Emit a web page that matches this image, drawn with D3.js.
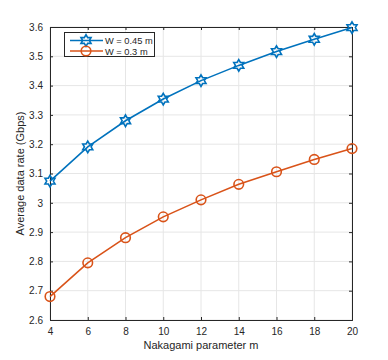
<!DOCTYPE html>
<html lang="en">
<head>
<meta charset="UTF-8" />
<script src="https://d3js.org/d3.v7.min.js"></script>
<style>
  body { margin: 0; background: #fff; }
  text { font-family: "Liberation Sans", Arial, sans-serif; fill: #262626; }
</style>
</head>
<body>
<div id="chart"></div>
<script>
// data
const mValues = [4, 6, 8, 10, 12, 14, 16, 18, 20];
const rateW045 = [3.074, 3.191, 3.280, 3.354, 3.417, 3.469, 3.516, 3.558, 3.598];
const rateW03 = [2.680, 2.795, 2.881, 2.952, 3.010, 3.063, 3.106, 3.148, 3.185];
const xTicks = [4, 6, 8, 10, 12, 14, 16, 18, 20];
const yTicks = [2.6, 2.7, 2.8, 2.9, 3.0, 3.1, 3.2, 3.3, 3.4, 3.5, 3.6];
const seriesNames = ["W = 0.45 m", "W = 0.3 m"];

const width = 388, height = 360;
const margin = { top: 27, right: 36, bottom: 40, left: 50 };
const axisColor = "#262626";

const svg = d3.select("#chart").append("svg")
  .attr("width", width).attr("height", height);

const x = d3.scaleLinear().domain([4, 20]).range([margin.left, width - margin.right]);
const y = d3.scaleLinear().domain([2.6, 3.6]).range([height - margin.bottom, margin.top]);

// grid
const grid = svg.append("g");
grid.selectAll("line.gx").data(xTicks).join("line")
  .attr("x1", d => x(d)).attr("x2", d => x(d))
  .attr("y1", y(2.6)).attr("y2", y(3.6))
  .attr("stroke", "#e6e6e6").attr("stroke-width", 1);
grid.selectAll("line.gy").data(yTicks).join("line")
  .attr("y1", d => y(d)).attr("y2", d => y(d))
  .attr("x1", x(4)).attr("x2", x(20))
  .attr("stroke", "#e6e6e6").attr("stroke-width", 1);

// axes (ticks pointing inwards, box on)
const fmtY = d => d3.format("")(+d.toFixed(1));
const xAxis = svg.append("g").attr("transform", `translate(0,${y(2.6)})`)
  .call(d3.axisBottom(x).tickValues(xTicks).tickSize(-3).tickPadding(8));
const yAxis = svg.append("g").attr("transform", `translate(${x(4)},0)`)
  .call(d3.axisLeft(y).tickValues(yTicks).tickFormat(fmtY).tickSize(-3).tickPadding(7));
const xTop = svg.append("g").attr("transform", `translate(0,${y(3.6)})`)
  .call(d3.axisTop(x).tickValues(xTicks).tickSize(-3).tickFormat(""));
const yRight = svg.append("g").attr("transform", `translate(${x(20)},0)`)
  .call(d3.axisRight(y).tickValues(yTicks).tickSize(-3).tickFormat(""));

[xAxis, yAxis, xTop, yRight].forEach(a => {
  a.select(".domain").attr("stroke", axisColor).attr("stroke-width", 1);
  a.selectAll(".tick line").attr("stroke", axisColor);
  a.selectAll("text").style("font-size", "10px").attr("fill", axisColor)
    .style("font-family", "'Liberation Sans', Arial, sans-serif");
});

// axis labels
svg.append("text")
  .attr("x", (x(4) + x(20)) / 2).attr("y", 349)
  .attr("text-anchor", "middle").style("font-size", "11px")
  .text("Nakagami parameter m");
svg.append("text")
  .attr("transform", `translate(24,${(y(2.6) + y(3.6)) / 2}) rotate(-90)`)
  .attr("text-anchor", "middle").style("font-size", "11px")
  .text("Average data rate (Gbps)");

// hexagram marker path
function hexagram(r) {
  const pts = [];
  for (let i = 0; i < 12; i++) {
    const a = -Math.PI / 2 + i * Math.PI / 6;
    const rr = i % 2 === 0 ? r : r / Math.sqrt(3);
    pts.push([rr * Math.cos(a), rr * Math.sin(a)]);
  }
  return "M" + pts.map(p => p.join(",")).join("L") + "Z";
}

const series = [
  { name: seriesNames[0], values: rateW045, color: "#0072BD", marker: "hex" },
  { name: seriesNames[1], values: rateW03, color: "#D95319", marker: "circle" }
];

const line = d3.line().x((d, i) => x(mValues[i])).y(d => y(d));

function drawMarker(sel, s, cx, cy) {
  if (s.marker === "hex") {
    sel.append("path").attr("d", hexagram(5.8))
      .attr("transform", `translate(${cx},${cy})`)
      .attr("fill", "none").attr("stroke", s.color).attr("stroke-width", 1.6);
  } else {
    sel.append("circle").attr("cx", cx).attr("cy", cy).attr("r", 4.8)
      .attr("fill", "none").attr("stroke", s.color).attr("stroke-width", 1.6);
  }
}

series.forEach(s => {
  const g = svg.append("g");
  g.append("path").datum(s.values).attr("d", line)
    .attr("fill", "none").attr("stroke", s.color).attr("stroke-width", 1.6);
  s.values.forEach((v, i) => drawMarker(g, s, x(mValues[i]), y(v)));
});

// legend
const lg = svg.append("g");
lg.append("rect").attr("x", 64.5).attr("y", 32.5).attr("width", 90).attr("height", 24)
  .attr("fill", "#fff").attr("stroke", axisColor).attr("stroke-width", 1);
series.forEach((s, i) => {
  const ly = 40.5 + i * 10.5;
  lg.append("line").attr("x1", 70).attr("x2", 103).attr("y1", ly).attr("y2", ly)
    .attr("stroke", s.color).attr("stroke-width", 1.6);
  drawMarker(lg, s, 86, ly);
  lg.append("text").attr("x", 105).attr("y", ly + 3.5)
    .style("font-size", "9.3px").text(s.name);
});
</script>
</body>
</html>
